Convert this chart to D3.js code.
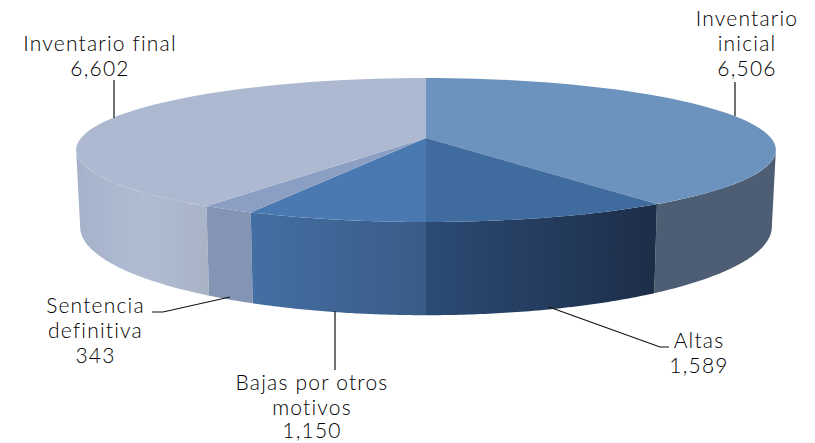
<!DOCTYPE html>
<html><head><meta charset="utf-8">
<script src="https://cdn.jsdelivr.net/npm/d3@7"></script>
<style>html,body{margin:0;background:#fff}svg{display:block}text{font-family:Lato,sans-serif;font-size:21px;font-weight:300;fill:#000;letter-spacing:1.2px}</style>
</head><body><svg id="c" width="815" height="443"></svg>
<script>
const categories = ["Inventario inicial","Altas","Bajas por otros motivos","Sentencia definitiva","Inventario final"];
const values = [6506,1589,1150,343,6602];
const valueLabels = ["6,506","1,589","1,150","343","6,602"];
const topColors = ["#6c93bd","#3f6b9e","#4a79b1","#8a9fc3","#adb9d1"];
const sideStops = [["#4d5d73","#4d5d73"],["#1d2d48","#2b4b75"],["#3a5b87","#436fa3"],["#8394b4","#8394b4"],["#a8b3c6","#b0bcd2","#a6b2ca"]];
// layout, kept apart from the data
const labelLines = [["Inventario","inicial"],["Altas"],["Bajas por otros","motivos"],["Sentencia","definitiva"],["Inventario final"]];
const labelPos = [[747,26],[699,348],[312,390],[95.5,313],[100,51]];
const leaders = [
 [[735,82],[735,116]],
 [[669,347],[660,347],[549,307]],
 [[335,370],[335,311]],
 [[152,312],[163,312],[230,297]],
 [[114,80],[114,118]]
];
const k = 1/6, cx = 426;
const xTop = d3.scaleLinear().domain([-1,1]).range([cx-345,cx+345]);
const yTop = d3.scaleLinear().domain([0,1]).range([138,208]);
const xBot = d3.scaleLinear().domain([-1,1]).range([cx-341,cx+341]);
const yBot = d3.scaleLinear().domain([0,1]).range([212,298]);
const proj = (a,r,sx,sy)=>{const u=r*Math.sin(a),w=-r*Math.cos(a),s=1/(1-k*w);return [sx(u*s),sy(w*s)];};
const arcs = d3.pie().sort(null).value(d=>d).startAngle(0).endAngle(2*Math.PI)(values);
const svg = d3.select("#c"), defs = svg.append("defs"), line = d3.line();
const sampled = (a0,a1)=>d3.range(0,61).map(i=>a0+(a1-a0)*i/60);
// visible part of the rim lies between the two silhouette tangents
const tanR = Math.acos(-k), tanL = 2*Math.PI-tanR;

// Sides
[0,4,3,2,1].forEach(i=>{
  const d=arcs[i];
  const as=sampled(Math.max(d.startAngle,tanR),Math.min(d.endAngle,tanL));
  const pts=as.map(a=>proj(a,1,xTop,yTop));
  const low=as.slice().reverse().map(a=>proj(a,1,xBot,yBot));
  const xs=pts.concat(low).map(p=>p[0]);
  const id="g"+i;
  const g=defs.append("linearGradient").attr("id",id).attr("gradientUnits","userSpaceOnUse")
    .attr("x1",d3.max(xs)).attr("x2",d3.min(xs)).attr("y1",0).attr("y2",0);
  sideStops[i].forEach((c,j,arr)=>g.append("stop").attr("offset",j/(arr.length-1)).attr("stop-color",c));
  svg.append("path").attr("d",line(pts.concat(low))+"Z").attr("fill",`url(#${id})`);
});
// Top faces
arcs.forEach((d,i)=>{
  const pts=[proj(0,0,xTop,yTop)].concat(sampled(d.startAngle,d.endAngle).map(a=>proj(a,1,xTop,yTop)));
  svg.append("path").attr("d",line(pts)+"Z").attr("fill",topColors[i]);
});
// Leaders
svg.append("g").selectAll("path").data(leaders).join("path")
  .attr("d",d=>line(d)).attr("fill","none").attr("stroke","#111").attr("stroke-width",1.2);
// Labels
categories.forEach((c,i)=>{
  const t=svg.append("text").attr("text-anchor","middle");
  labelLines[i].concat([valueLabels[i]]).forEach((s,j)=>{
    t.append("tspan").attr("x",labelPos[i][0]).attr("y",labelPos[i][1]+j*(i===2&&j===2?24:25)).text(s);
  });
});
</script></body></html>
